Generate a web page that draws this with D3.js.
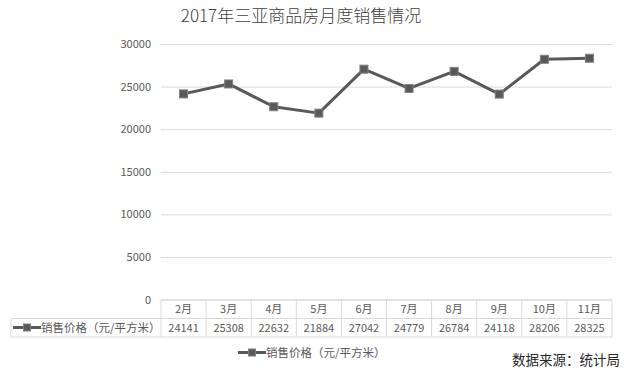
<!DOCTYPE html>
<html>
<head>
<meta charset="utf-8">
<script src="https://cdn.jsdelivr.net/npm/d3@7"></script>
<style>
  body { margin: 0; background: #fff; }
  text { font-family: "Noto Sans CJK SC", "Open Sans", sans-serif; }
</style>
</head>
<body>
<div id="chart"></div>
<script>
var months = ['2月', '3月', '4月', '5月', '6月', '7月', '8月', '9月', '10月', '11月'];
var prices = [24141, 25308, 22632, 21884, 27042, 24779, 26784, 24118, 28206, 28325];
var yTicks = [0, 5000, 10000, 15000, 20000, 25000, 30000];
var seriesName = '销售价格（元/平方米）';
var title = '2017年三亚商品房月度销售情况';
var source = '数据来源：统计局';

var width = 629, height = 375;
var plot = { left: 161, right: 612, top: 44, bottom: 299.5 };
var lineColor = '#595959', gridColor = '#d9d9d9', textColor = '#595959';

var svg = d3.select('#chart').append('svg')
    .attr('width', width)
    .attr('height', height);

var x = d3.scaleBand()
    .domain(months)
    .range([plot.left, plot.right]);
var y = d3.scaleLinear()
    .domain([0, 30000])
    .range([plot.bottom, plot.top]);

// title
svg.append('text')
    .attr('x', 301)
    .attr('y', 22)
    .attr('text-anchor', 'middle')
    .attr('font-size', 17)
    .attr('font-weight', 300)
    .attr('fill', '#404040')
    .text(title);

// gridlines
svg.append('g')
    .attr('transform', 'translate(' + plot.left + ',0)')
    .call(d3.axisLeft(y).tickValues(yTicks).tickFormat(d3.format('d'))
        .tickSize(-(plot.right - plot.left)).tickPadding(10))
    .call(function (g) {
        g.select('.domain').remove();
        g.selectAll('.tick line').attr('stroke', gridColor);
        g.selectAll('.tick text')
            .attr('fill', textColor)
            .attr('font-size', 11);
    });

// table
var rowTop = 300, rowMid = 318.5, rowBot = 337, tableLeft = 11;
var table = svg.append('g').attr('stroke', gridColor).attr('fill', 'none');
table.append('line').attr('x1', plot.left).attr('x2', plot.right).attr('y1', rowTop).attr('y2', rowTop);
table.append('line').attr('x1', tableLeft).attr('x2', plot.right).attr('y1', rowMid).attr('y2', rowMid);
table.append('line').attr('x1', tableLeft).attr('x2', plot.right).attr('y1', rowBot).attr('y2', rowBot);
table.append('line').attr('x1', tableLeft).attr('x2', tableLeft).attr('y1', rowMid).attr('y2', rowBot);
table.selectAll('.col')
    .data(months)
    .enter().append('line')
    .attr('x1', function (d) { return x(d); })
    .attr('x2', function (d) { return x(d); })
    .attr('y1', rowTop).attr('y2', rowBot);
table.append('line').attr('x1', plot.right).attr('x2', plot.right).attr('y1', rowTop).attr('y2', rowBot);

svg.selectAll('.month')
    .data(months)
    .enter().append('text')
    .attr('x', function (d) { return x(d) + x.bandwidth() / 2; })
    .attr('y', 313)
    .attr('text-anchor', 'middle')
    .attr('font-size', 11)
    .attr('fill', textColor)
    .text(function (d) { return d; });

svg.selectAll('.val')
    .data(prices)
    .enter().append('text')
    .attr('x', function (d, i) { return x(months[i]) + x.bandwidth() / 2; })
    .attr('y', 332)
    .attr('text-anchor', 'middle')
    .attr('font-size', 11)
    .attr('fill', textColor)
    .text(function (d) { return d; });

function legendKey(g, cx, cy) {
    g.append('line')
        .attr('x1', cx - 14).attr('x2', cx + 14)
        .attr('y1', cy).attr('y2', cy)
        .attr('stroke', lineColor).attr('stroke-width', 3);
    g.append('rect')
        .attr('x', cx - 3.5).attr('y', cy - 3.5)
        .attr('width', 7).attr('height', 7)
        .attr('fill', lineColor).attr('stroke', '#7f7f7f');
}

legendKey(svg, 27, 327.5);
svg.append('text')
    .attr('x', 41).attr('y', 332)
    .attr('font-size', 11.5)
    .attr('fill', textColor)
    .text(seriesName);

// line
var line = d3.line()
    .x(function (d, i) { return x(months[i]) + x.bandwidth() / 2; })
    .y(function (d) { return y(d); });

svg.append('path')
    .datum(prices)
    .attr('d', line)
    .attr('fill', 'none')
    .attr('stroke', lineColor)
    .attr('stroke-width', 3)
    .attr('stroke-linejoin', 'round');

svg.selectAll('.pt')
    .data(prices)
    .enter().append('rect')
    .attr('x', function (d, i) { return x(months[i]) + x.bandwidth() / 2 - 4; })
    .attr('y', function (d) { return y(d) - 4; })
    .attr('width', 8)
    .attr('height', 8)
    .attr('fill', lineColor)
    .attr('stroke', '#7f7f7f')
    .attr('stroke-width', 1);

// legend
legendKey(svg, 252, 352.5);
svg.append('text')
    .attr('x', 266).attr('y', 357)
    .attr('font-size', 11.5)
    .attr('fill', textColor)
    .text(seriesName);

// source
svg.append('text')
    .attr('x', 512).attr('y', 365)
    .attr('font-size', 13.5)
    .attr('fill', '#262626')
    .text(source);
</script>
</body>
</html>
